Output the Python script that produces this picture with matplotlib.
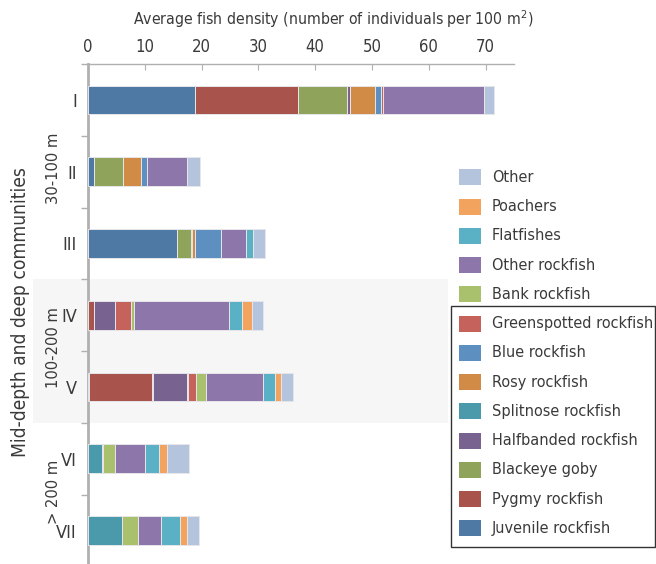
import matplotlib
matplotlib.use("Agg")
import matplotlib.pyplot as plt
from matplotlib import font_manager
from matplotlib.patches import Rectangle
import numpy as np

# pick a narrow face if one is installed
faces = font_manager.fontManager.ttflist
if any(f.name == "Liberation Sans Narrow" for f in faces):
    plt.rcParams['font.family'] = ['Liberation Sans Narrow', 'DejaVu Sans']
    fstretch, scale = "normal", 1.1
elif any(f.name == "DejaVu Sans" and f.stretch == "condensed" for f in faces):
    plt.rcParams['font.family'] = ['DejaVu Sans']
    fstretch, scale = "condensed", 1.0
else:
    plt.rcParams['font.family'] = ['Roboto', 'DejaVu Sans']
    fstretch, scale = "normal", 0.92
plt.rcParams['font.stretch'] = fstretch

communities = ["I", "II", "III", "IV", "V", "VI", "VII"]

# stacking order, left to right inside each bar
groups = ["Juvenile rockfish", "Pygmy rockfish", "Blackeye goby", "Halfbanded rockfish",
          "Splitnose rockfish", "Rosy rockfish", "Blue rockfish", "Greenspotted rockfish",
          "Bank rockfish", "Other rockfish", "Flatfishes", "Poachers", "Other"]
colors = ["#4e79a5", "#a8534c", "#8fa35a", "#786290", "#4a9aab", "#d28a47", "#5d8fc0",
          "#c6625c", "#a9c06c", "#8c76aa", "#5ab1c6", "#f2a35d", "#b3c4dc"]

# density per 100 m2, one list per group (communities I..VII)
juvenile     = [18.9, 1.05, 15.7, 0.0, 0.2, 0.0, 0.0]
pygmy        = [18.05, 0.0, 0.0, 1.05, 11.05, 0.0, 0.0]
blackeye     = [8.65, 5.15, 2.35, 0.0, 0.2, 0.0, 0.0]
halfbanded   = [0.6, 0.0, 0.2, 3.7, 6.0, 0.0, 0.0]
splitnose    = [0.0, 0.0, 0.0, 0.0, 0.0, 2.45, 6.0]
rosy         = [4.4, 3.2, 0.65, 0.0, 0.2, 0.0, 0.0]
blue         = [1.0, 1.0, 4.6, 0.0, 0.0, 0.0, 0.0]
greenspotted = [0.3, 0.0, 0.0, 2.85, 1.45, 0.2, 0.0]
bank         = [0.0, 0.0, 0.0, 0.5, 1.6, 2.05, 2.8]
other_rf     = [17.8, 7.0, 4.3, 16.7, 10.05, 5.4, 4.0]
flatfishes   = [0.0, 0.0, 1.25, 2.3, 2.15, 2.4, 3.4]
poachers     = [0.0, 0.0, 0.0, 1.7, 1.0, 1.4, 1.2]
other        = [1.7, 2.3, 2.05, 2.0, 2.2, 3.8, 2.1]

values = [juvenile, pygmy, blackeye, halfbanded, splitnose, rosy, blue,
          greenspotted, bank, other_rf, flatfishes, poachers, other]

depth_labels = ["30-100 m", "100-200 m", "> 200 m"]

W, H = 656, 564
txt = "#3a3a3a"
axis_gray = "#b0b0b0"

fig = plt.figure(figsize=(W / 100, H / 100), dpi=100)

def fx(px):
    return px / W

def fy(py):
    return 1 - py / H

# axes box in pixels
left, right, top, bottom = 88, 514, 64, 566.4
ax = fig.add_axes([fx(left), fy(bottom), fx(right - left), (bottom - top) / H])
ax.patch.set_visible(False)

y = np.arange(len(communities))
base = np.zeros(len(communities))
for name, col, vals in zip(groups, colors, values):
    ax.barh(y, vals, left=base, height=0.40, color=col, edgecolor="#e6e6ea",
            linewidth=0.7, zorder=3)
    base += np.array(vals)

ax.set_xlim(0, 75)
ax.set_ylim(len(communities) - 0.5, -0.5)

ax.xaxis.tick_top()
ax.xaxis.set_label_position("top")
ax.set_xticks(np.arange(0, 80, 10))
ax.tick_params(axis="x", direction="in", length=4, color=axis_gray, pad=6,
               labelsize=12 * scale, labelcolor=txt)
ax.set_xlabel("Average fish density (number of individuals per 100 m$^2$)",
              fontsize=11.3 * scale, color=txt, labelpad=9)
ax.xaxis.label.set_x((333 - left) / (right - left))

ax.set_yticks(y)
ax.set_yticklabels(communities)
ax.set_yticks(np.arange(-0.5, len(communities), 1), minor=True)
ax.tick_params(axis="y", which="major", length=0, pad=8, labelsize=13 * scale,
               labelcolor=txt)
ax.tick_params(axis="y", which="minor", length=5, color=axis_gray, width=1)

for s in ["right", "bottom"]:
    ax.spines[s].set_visible(False)
ax.spines["left"].set_color(axis_gray)
ax.spines["left"].set_linewidth(2)
ax.spines["top"].set_color(axis_gray)
ax.spines["top"].set_linewidth(1)

# shaded band behind the 100-200 m communities
step = (bottom - top) / len(communities)
band_top = top + 3 * step
band_bot = top + 5 * step
fig.patches.append(Rectangle((fx(33), fy(band_bot)), fx(448 - 33), (band_bot - band_top) / H,
                             transform=fig.transFigure, facecolor="#f6f6f6",
                             edgecolor="none", zorder=-1))

# depth group labels
for lab, cy in zip(depth_labels, [168, 348, 492]):
    fig.text(fx(53), fy(cy), lab, rotation=90, ha="center", va="center",
             fontsize=11.8 * scale, color=txt)
fig.text(fx(21), fy(312), "Mid-depth and deep communities", rotation=90,
         ha="center", va="center", fontsize=13.8 * scale, color=txt)

# legend, top entry is the last stacked group
row0, row_step = 177.3, 29.25
for i, (name, col) in enumerate(zip(groups[::-1], colors[::-1])):
    cy = row0 + i * row_step
    fig.patches.append(Rectangle((fx(459), fy(cy + 8)), fx(22), 16 / H,
                                 transform=fig.transFigure, facecolor=col,
                                 edgecolor="none"))
    fig.text(fx(492), fy(cy), name, ha="left", va="center", fontsize=11.6 * scale,
             color=txt)

# frame around the rockfish-dominated entries
fig.patches.append(Rectangle((fx(450.5), fy(546.5)), fx(655 - 450.5), (546.5 - 306) / H,
                             transform=fig.transFigure, facecolor="none",
                             edgecolor="#333333", linewidth=1))

fig.savefig("out.png", dpi=100)
